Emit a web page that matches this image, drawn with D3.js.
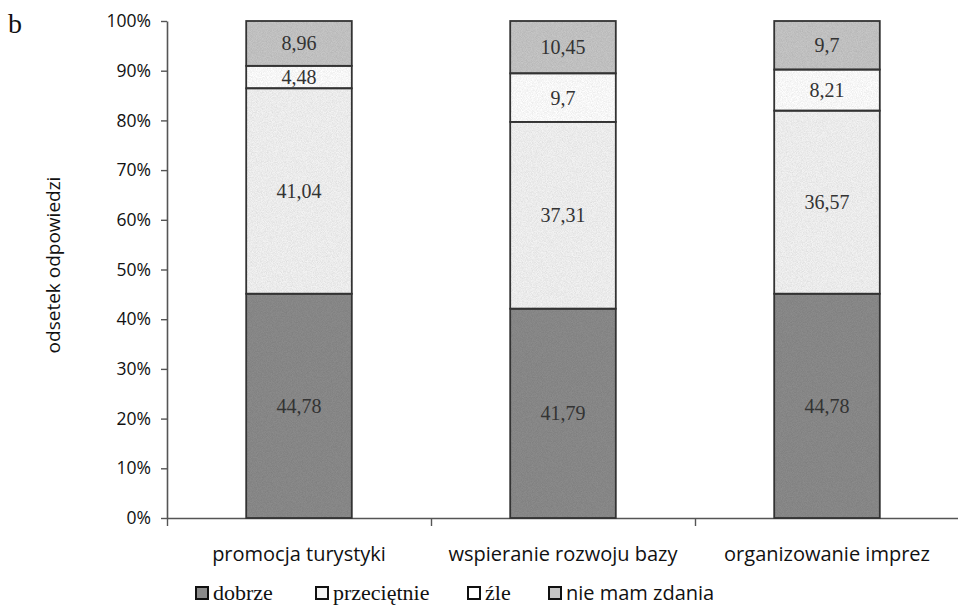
<!DOCTYPE html>
<html><head><meta charset="utf-8">
<script src="https://cdn.jsdelivr.net/npm/d3@7"></script>
<style>body{margin:0;background:#fff}svg{display:block}</style>
</head><body><svg id="c" width="958" height="609"></svg>
<script>
const categories = ["promocja turystyki", "wspieranie rozwoju bazy", "organizowanie imprez"];
const seriesNames = ["dobrze", "przeciętnie", "źle", "nie mam zdania"];
const dobrze = [44.78, 41.79, 44.78];
const przecietnie = [41.04, 37.31, 36.57];
const zle = [4.48, 9.7, 8.21];
const nieMamZdania = [8.96, 10.45, 9.7];
const yTicks = [0, 0.1, 0.2, 0.3, 0.4, 0.5, 0.6, 0.7, 0.8, 0.9, 1];
const fills = ["#8b8b8b", "#f3f3f3", "#ffffff", "#c6c6c6"];

const svg = d3.select("#c");
const m = {l: 167, t: 21, b: 91};
const H = 609;
const x = d3.scaleBand().domain(categories).range([m.l, m.l + 264 * 3]).paddingInner(0.6).paddingOuter(0.3);
const y = d3.scaleLinear().domain([0, 1]).range([H - m.b, m.t]);

const defs = svg.append("defs");
const f = defs.append("filter").attr("id", "grain").attr("x", 0).attr("y", 0).attr("width", 1).attr("height", 1);
f.append("feTurbulence").attr("type", "fractalNoise").attr("baseFrequency", 1.2).attr("numOctaves", 1).attr("seed", 3).attr("result", "n");
f.append("feColorMatrix").attr("in", "n").attr("type", "matrix")
  .attr("values", "0 0 0 0 0  0 0 0 0 0  0 0 0 0 0  0 0 0 0.35 -0.1").attr("result", "a");
f.append("feComposite").attr("in", "a").attr("in2", "SourceGraphic").attr("operator", "atop");

const rows = categories.map((c, i) => {
  const vals = [dobrze[i], przecietnie[i], zle[i], nieMamZdania[i]];
  const tot = d3.sum(vals);
  const o = {cat: c};
  seriesNames.forEach((s, k) => { o[s] = vals[k] / tot; o[s + "_raw"] = vals[k]; });
  return o;
});
const stack = d3.stack().keys(seriesNames)(rows);

const sans = "'Open Sans', Lato, sans-serif";
const serif = "'Liberation Serif', 'DejaVu Serif', serif";

// axes
const yAxis = d3.axisLeft(y).tickValues(yTicks).tickFormat(d => Math.round(d * 100) + "%").tickSize(6).tickSizeOuter(0);
const gy = svg.append("g").attr("transform", `translate(${m.l},0)`).call(yAxis);
gy.select(".domain").attr("stroke", "#555").attr("stroke-width", 1.6);
gy.selectAll(".tick line").attr("stroke", "#555").attr("stroke-width", 1.4);
gy.selectAll(".tick text").attr("x", -16).attr("fill", "#111").style("font-family", sans).style("font-size", "17.5px");

const xl = d3.scaleLinear().domain([0, 3]).range([m.l, m.l + 264 * 3]);
const gx = svg.append("g").attr("transform", `translate(0,${y(0)})`)
  .call(d3.axisBottom(xl).tickValues([0, 1, 2, 3]).tickFormat("").tickSize(8).tickSizeOuter(0));
gx.select(".domain").attr("stroke", "#555").attr("stroke-width", 1.6);
gx.selectAll(".tick line").attr("stroke", "#555").attr("stroke-width", 1.4);

// bars
stack.forEach((layer, k) => {
  svg.append("g").selectAll("rect").data(layer).join("rect")
    .attr("x", d => x(d.data.cat)).attr("width", x.bandwidth())
    .attr("y", d => y(d[1])).attr("height", d => y(d[0]) - y(d[1]))
    .attr("fill", fills[k]).attr("filter", "url(#grain)");
});
stack.forEach((layer) => {
  svg.append("g").selectAll("rect").data(layer).join("rect")
    .attr("x", d => x(d.data.cat)).attr("width", x.bandwidth())
    .attr("y", d => y(d[1])).attr("height", d => y(d[0]) - y(d[1]))
    .attr("fill", "none").attr("stroke", "#333").attr("stroke-width", 1.8);
});
stack.forEach((layer) => {
  svg.append("g").selectAll("text").data(layer).join("text")
    .attr("x", d => x(d.data.cat) + x.bandwidth() / 2)
    .attr("y", d => (y(d[0]) + y(d[1])) / 2)
    .attr("dy", "0.35em").attr("text-anchor", "middle")
    .attr("fill", "#333").style("font-family", serif).style("font-size", "20px")
    .text(d => String(d.data[layer.key + "_raw"]).replace(".", ","));
});

// category labels
svg.append("g").selectAll("text").data(categories).join("text")
  .attr("x", d => x(d) + x.bandwidth() / 2).attr("y", 561).attr("text-anchor", "middle")
  .attr("fill", "#111").style("font-family", sans).style("font-size", "20px")
  .text(d => d);

// y title
svg.append("text").attr("transform", "translate(60,265) rotate(-90)").attr("text-anchor", "middle")
  .attr("fill", "#111").style("font-family", sans).style("font-size", "19px")
  .text("odsetek odpowiedzi");

// panel letter
svg.append("text").attr("x", 8).attr("y", 33).attr("fill", "#111")
  .style("font-family", serif).style("font-size", "28px").text("b");

// legend
const legX = [195, 315, 467, 548];
const lg = svg.append("g").selectAll("g").data(seriesNames).join("g")
  .attr("transform", (d, i) => `translate(${legX[i]},586)`);
lg.append("rect").attr("x", 1).attr("y", 1).attr("width", 12).attr("height", 12).attr("fill", (d, i) => fills[i])
  .attr("stroke", "#111").attr("stroke-width", 2);
lg.append("text").attr("x", 18).attr("y", 14).attr("fill", "#111")
  .style("font-family", (d, i) => i === 3 ? sans : serif)
  .style("font-size", (d, i) => i === 3 ? "20px" : "22px").text(d => d);
</script></body></html>
